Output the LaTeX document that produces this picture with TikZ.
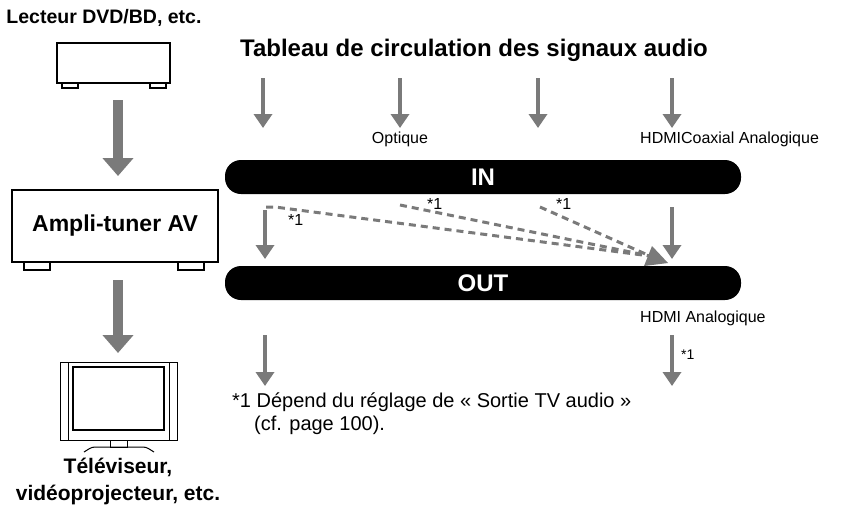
\documentclass[tikz,border=0pt]{standalone}
\usepackage{fontspec}
\setmainfont{Liberation Sans}
\usetikzlibrary{arrows.meta}
\definecolor{ag}{HTML}{7A7A7A}
\begin{document}
\begin{tikzpicture}[x=1pt,y=-1pt,
  big/.style={draw=ag,line width=10pt,-{Triangle[length=18pt,width=30pt]}},
  sml/.style={draw=ag,line width=3.5pt,-{Triangle[length=14pt,width=18pt]}},
  dsh/.style={draw=ag,line width=3pt,dash pattern=on 7pt off 5pt},
  bar/.style={fill=black,rounded corners=16pt},
  lab/.style={font=\fontsize{16}{18}\selectfont,anchor=west,inner sep=0pt},
  ttl/.style={font=\bfseries\fontsize{21}{23}\selectfont},
  dev/.style={draw=black,line width=1.3pt,fill=white}]
\useasboundingbox (0,0) rectangle (862,507);
% left devices
\node[ttl,font=\bfseries\fontsize{19.5}{21}\selectfont,inner sep=0pt] (lect) at (104,18) {Lecteur DVD/BD, etc.};
\draw[dev] (62,82) rectangle (78,88) (150,82) rectangle (166,88);
\draw[dev] (57,43) rectangle (170,83);
\coordinate (a1s) at (118,100); \coordinate (a1e) at (118,176);
\draw[big] (a1s) -- (a1e);
\draw[dev] (24,261) rectangle (50,270) (178,261) rectangle (204,270);
\node[dev,minimum width=206pt,minimum height=72pt,inner sep=0pt,font=\bfseries\fontsize{23}{25}\selectfont] (amp) at (115,226) {Ampli-tuner AV};
\coordinate (a2s) at (118,280); \coordinate (a2e) at (118,353);
\draw[big] (a2s) -- (a2e);
\draw[line width=1pt,fill=white] (60,362) rectangle (177,440);
\draw[line width=1pt] (68,362) -- (68,440) (169,362) -- (169,440);
\draw[line width=1.6pt] (73,367) rectangle (164,430);
\draw[line width=1pt] (110,440) rectangle (127,447);
\draw[line width=1pt,rounded corners=3pt] (84,452) -- (92,447) -- (146,447) -- (154,452);
\node[ttl] (tv) at (118,467) {Téléviseur,};
\node[ttl] (tv2) at (118,495) {vidéoprojecteur, etc.};
% right table
\node[ttl,font=\bfseries\fontsize{24}{26}\selectfont] (title) at (474,50) {Tableau de circulation des signaux audio};
\foreach \x/\n in {263/t1,400/t2,538/t3,672/t4}{
  \coordinate (\n s) at (\x,78); \coordinate (\n e) at (\x,128);
  \draw[sml] (\n s) -- (\n e);}
\node[lab,anchor=center] (opt) at (400,139) {Optique};
\node[lab] (hca) at (640,139) {HDMICoaxial Analogique};
\fill[bar] (225,160) rectangle (741,194);
\node[text=white,font=\bfseries\fontsize{24}{26}\selectfont] (in) at (483,177) {IN};
\fill[bar] (225,266) rectangle (741,300);
\node[text=white,font=\bfseries\fontsize{24}{26}\selectfont] (out) at (483,283) {OUT};
% between bars
\coordinate (l1) at (265,210); \coordinate (l2) at (265,259);
\draw[sml] (l1) -- (l2);
\coordinate (r1) at (672,207); \coordinate (r2) at (672,259);
\draw[sml] (r1) -- (r2);
\draw[dsh] (266,207) -- (275,207) -- (650,256);
\draw[dsh] (400,205) -- (650,256);
\draw[dsh] (540,207) -- (650,256);
\fill[ag] (668,263) -- (644,266) -- (652,246) -- cycle;
\node[lab] (s1) at (288,220) {*1};
\node[lab] (s2) at (427,204) {*1};
\node[lab] (s3) at (556,204) {*1};
\node[lab] (ha) at (640,318) {HDMI Analogique};
\coordinate (b1s) at (265,335); \coordinate (b1e) at (265,386);
\draw[sml] (b1s) -- (b1e);
\coordinate (b2s) at (672,335); \coordinate (b2e) at (672,386);
\draw[sml] (b2s) -- (b2e);
\node[lab,font=\fontsize{14}{16}\selectfont] (s4) at (681,355) {*1};
\node[lab,font=\fontsize{20}{22}\selectfont] (fn1) at (232,402) {*1 Dépend du réglage de « Sortie TV audio »};
\node[lab,font=\fontsize{20}{22}\selectfont] (fn2) at (254,425) {(cf. page 100).};
\end{tikzpicture}
\end{document}
